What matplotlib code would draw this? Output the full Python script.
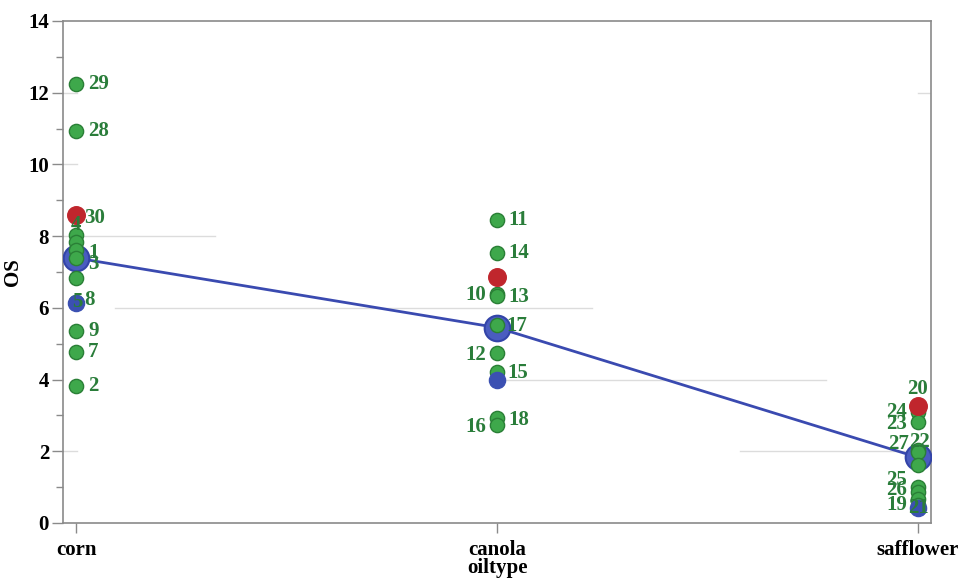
import matplotlib
matplotlib.use("Agg")
import matplotlib.pyplot as plt
from matplotlib.ticker import MultipleLocator

plt.rcParams['font.family'] = ['Liberation Serif', 'DejaVu Serif']
plt.rcParams['font.weight'] = 'bold'

categories = ['corn', 'canola', 'safflower']

corn_ids = ['29', '28', '30', '4', '', '1', '3', '', '5', '8', '9', '7', '2']
corn_os = [12.24, 10.92, 8.59, 8.03, 7.85, 7.61, 7.38, 6.82, 6.15, 6.13, 5.35, 4.77, 3.82]

canola_ids = ['11', '14', '10', '13', '17', '12', '15', '18', '16']
canola_os = [8.45, 7.52, 6.40, 6.34, 5.52, 4.73, 4.22, 2.92, 2.73]

safflower_ids = ['20', '24', '23', '22', '27', '', '25', '26', '19', '21']
safflower_os = [3.22, 3.10, 2.83, 2.03, 1.98, 1.62, 1.01, 0.86, 0.68, 0.50]

group_mean = [7.39, 5.45, 1.83]
group_upper = [8.59, 6.86, 3.27]
group_lower = [6.13, 3.98, 0.41]

# label placement: (ha, dx px, dy px)
label_pos = {
    '29': ('left', 12, 0), '28': ('left', 12, 0), '30': ('left', 8, -3),
    '4': ('center', 0, 10), '1': ('left', 12, -3), '3': ('left', 12, -6),
    '8': ('left', 8, 3), '5': ('center', 1, 0), '9': ('left', 12, 0),
    '7': ('left', 12, 0), '2': ('left', 12, 0),
    '11': ('left', 11, 0), '14': ('left', 11, 0), '13': ('left', 11, -1),
    '10': ('right', -11, -1), '17': ('left', 9, -1), '12': ('right', -11, -2),
    '15': ('left', 10, -1), '18': ('left', 11, -2), '16': ('right', -11, -2),
    '20': ('center', 0, 19), '24': ('right', -11, 0), '23': ('right', -11, -2),
    '22': ('center', 2, 8), '27': ('right', -9, 8), '25': ('right', -11, 7),
    '26': ('right', -11, 2), '19': ('right', -11, -6), '21': ('center', 1, -3),
}

green_face = '#3ea84b'
green_edge = '#2a7f36'
label_col = '#2a7d3a'
red_col = '#c0262d'
blue_col = '#3b50b2'
fs = 15

fig = plt.figure(figsize=(9.6, 5.81), dpi=100)
ax = fig.add_axes([63/960, 1-523/581, (931-63)/960, (523-21)/581])

xpos = list(range(len(categories)))
ax.set_xlim(-0.031, 2.031)
ax.set_ylim(0, 14)

# faint gridline fragments
grid_segments = [
    (12, 0.0, 0.016), (12, 0.985, 1.0), (10, 0.0, 0.016), (8, 0.0, 0.175),
    (6, 0.06, 0.61), (4, 0.509, 0.879), (2, 0.0, 0.016), (2, 0.78, 1.0),
]
for yv, x0, x1 in grid_segments:
    ax.axhline(yv, x0, x1, color='#dcdcdc', lw=1.0, zorder=0)

# mean line
ax.plot(xpos, group_mean, color='#3a4ab0', lw=2.0, zorder=2)
ax.scatter(xpos, group_mean, s=340, facecolor='#4a5cc0', edgecolor='#3344a8',
           linewidth=1.5, zorder=3)

groups = [(corn_ids, corn_os), (canola_ids, canola_os), (safflower_ids, safflower_os)]
for gi, (ids, vals) in enumerate(groups):
    ax.scatter([gi]*len(vals), vals, s=105, facecolor=green_face, edgecolor=green_edge,
               linewidth=1.0, zorder=4)

ax.scatter(xpos, group_upper, s=160, facecolor=red_col, edgecolor=red_col, zorder=5)
ax.scatter(xpos, group_lower, s=135, facecolor=blue_col, edgecolor=blue_col, zorder=5)

for gi, (ids, vals) in enumerate(groups):
    for lab, v in zip(ids, vals):
        if not lab:
            continue
        ha, dx, dy = label_pos.get(lab, ('left', 12, 0))
        ax.annotate(lab, (gi, v), xytext=(dx, dy), textcoords='offset pixels',
                    ha=ha, va='center', color=label_col, fontsize=fs,
                    fontweight='bold', zorder=6, annotation_clip=False)

# axes styling
for sp in ax.spines.values():
    sp.set_color('#8a8a8a')
    sp.set_linewidth(1.2)

ax.yaxis.set_major_locator(MultipleLocator(2))
ax.yaxis.set_minor_locator(MultipleLocator(1))
ax.tick_params(axis='y', which='major', length=8, width=1, color='#8a8a8a',
               labelsize=fs, pad=2)
ax.tick_params(axis='y', which='minor', length=5, width=1, color='#8a8a8a')
ax.set_xticks(xpos)
ax.set_xticklabels(categories)
ax.tick_params(axis='x', length=7, width=1, color='#8a8a8a', labelsize=fs, pad=5)
for t in ax.get_xticklabels() + ax.get_yticklabels():
    t.set_fontweight('bold')

ax.set_ylabel('OS', fontsize=fs, fontweight='bold', labelpad=4)
ax.set_xlabel('oiltype', fontsize=fs, fontweight='bold', labelpad=-1)

fig.savefig('out.png', dpi=100)
